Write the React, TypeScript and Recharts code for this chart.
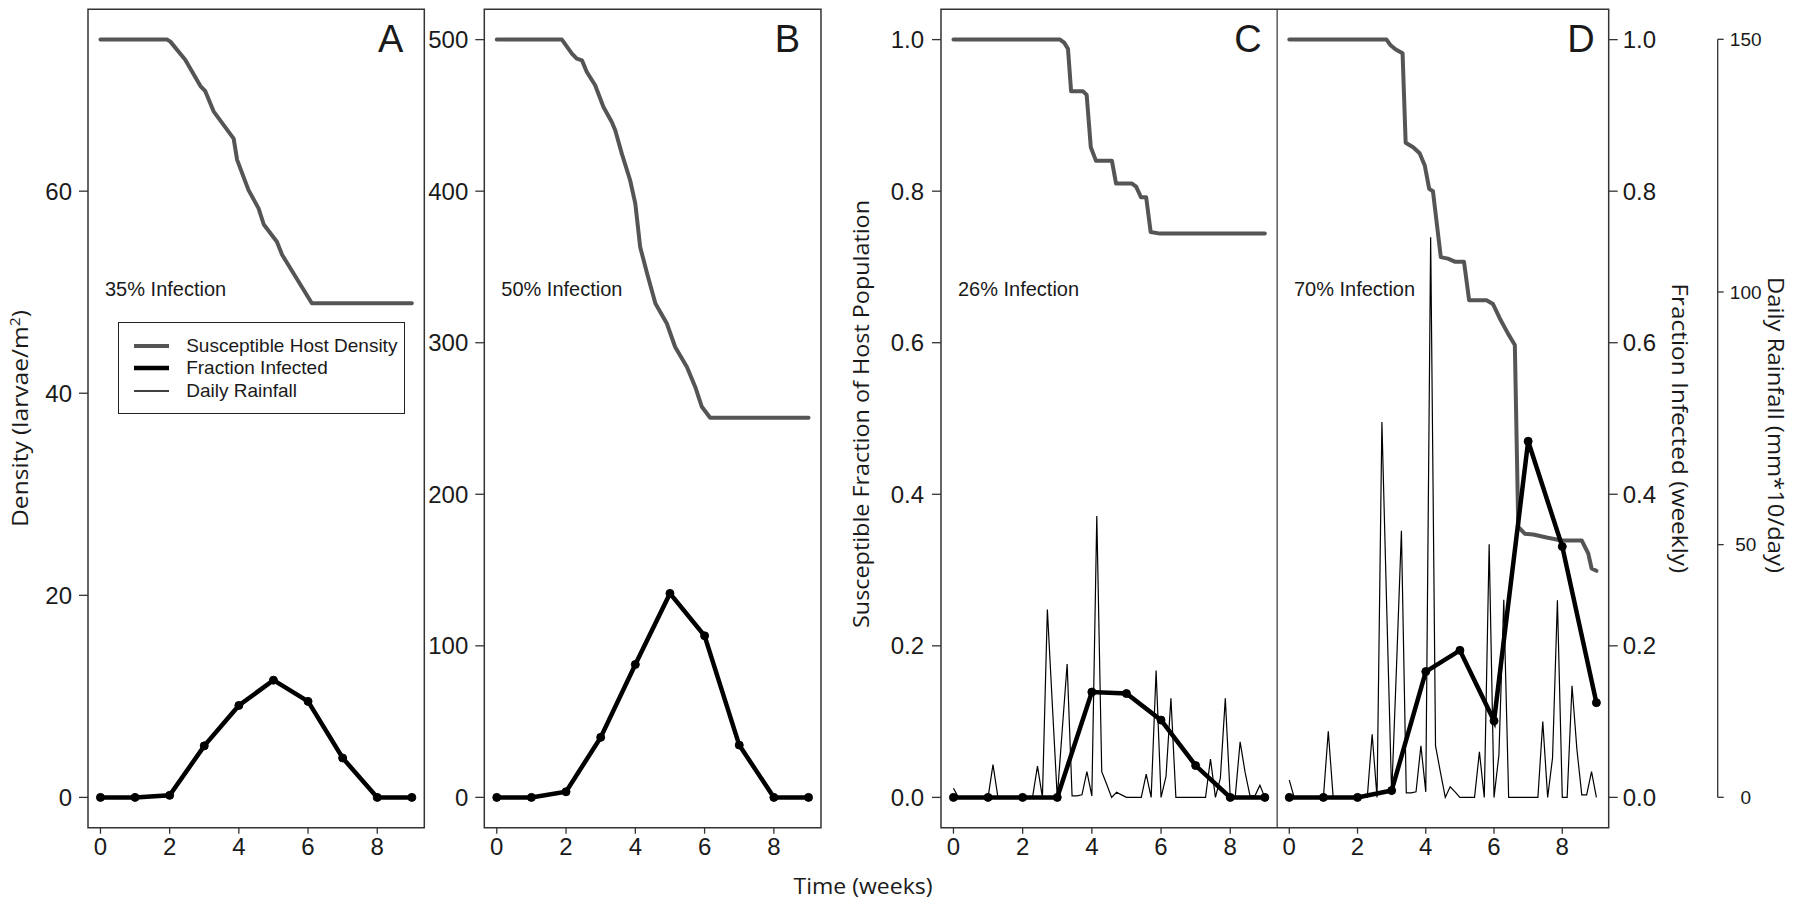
import React from "react";
import { ComposedChart, Line, XAxis, YAxis, ReferenceArea, Legend } from "recharts";

// weekly sampling points
const weeks = [0, 1, 2, 3, 4, 5, 6, 7, 8, 9];
const infectedA = [0, 0, 0.2, 5.1, 9.1, 11.6, 9.5, 3.9, 0, 0];
const infectedB = [0, 0, 3.7, 39.6, 87.7, 134.6, 106.6, 34.5, 0, 0];
const infectedC = [0, 0, 0, 0, 0.139, 0.137, 0.102, 0.042, 0, 0];
const infectedD = [0, 0, 0, 0.009, 0.166, 0.194, 0.101, 0.47, 0.331, 0.125];

// susceptible hosts (time in weeks / value)
const susAWeeks = [0, 1.93, 2.02, 2.45, 2.89, 3.03, 3.27, 3.85, 3.95, 4.28, 4.57, 4.72, 5.1, 5.25, 6.11, 9];
const susA = [75, 75, 74.8, 73, 70.4, 69.9, 67.9, 65.2, 63.1, 60.1, 58.3, 56.7, 55, 53.7, 48.9, 48.9];

const susBWeeks = [0, 1.88, 2.17, 2.31, 2.46, 2.6, 2.84, 3.08, 3.32, 3.42, 3.61, 3.85, 4.0, 4.14, 4.34, 4.58, 4.91, 5.15, 5.49, 5.73, 5.92, 6.16, 9];
const susB = [500, 500, 490.8, 487.5, 486.3, 478.6, 469.9, 455.5, 445.6, 440.2, 424.8, 407.2, 391.8, 363.2, 345.6, 325.9, 312.7, 297.2, 284, 270.8, 257.7, 250.5, 250.5];

const susCWeeks = [0, 3.08, 3.2, 3.31, 3.4, 3.74, 3.85, 3.97, 4.12, 4.58, 4.7, 5.16, 5.28, 5.42, 5.57, 5.7, 5.97, 9];
const susC = [1, 1, 0.996, 0.988, 0.932, 0.932, 0.927, 0.858, 0.84, 0.84, 0.81, 0.81, 0.806, 0.792, 0.792, 0.746, 0.744, 0.744];

const susDWeeks = [0, 2.85, 2.96, 3.12, 3.32, 3.41, 3.63, 3.82, 3.97, 4.1, 4.21, 4.44, 4.65, 4.85, 5.12, 5.27, 5.78, 5.97, 6.17, 6.41, 6.61, 6.71, 6.9, 7.15, 7.54, 7.98, 8.57, 8.76, 8.86, 9];
const susD = [1, 1, 0.993, 0.987, 0.982, 0.864, 0.858, 0.85, 0.834, 0.803, 0.8, 0.713, 0.711, 0.707, 0.707, 0.656, 0.656, 0.651, 0.632, 0.612, 0.597, 0.357, 0.348, 0.347, 0.343, 0.339, 0.339, 0.322, 0.302, 0.299];

// daily rainfall (mm*10/day), days 0..63
const rainC = [
  1.8, 0, 0, 0, 0, 0, 0, 0, 6.5, 0,
  0, 0, 0, 0, 0, 0, 0, 6.2, 0, 37.2,
  18.5, 0, 13.2, 26.4, 0.3, 0.3, 0.5, 5.1, 0.3, 55.7,
  5.1, 2.6, 0, 1.0, 0.5, 0, 0, 0, 0, 4.6,
  0, 25.1, 0, 4.1, 19.6, 0, 0, 0, 0, 0,
  0, 0, 7.6, 0, 3.8, 19.6, 0, 0, 11.0, 5.0,
  0.3, 0.3, 2.4, 0,
];
const rainD = [
  3.4, 0, 0, 0, 0, 0, 0, 0, 13.1, 0,
  0, 0, 0, 0, 0, 0, 0, 12.5, 0, 74.3,
  37, 0.5, 26, 52.8, 0.9, 0.9, 1.1, 10.2, 1.1, 110.9,
  10.2, 5, 0, 2.1, 1.1, 0, 0, 0, 0, 9.0,
  0, 50.1, 0, 8.4, 39.1, 0, 0, 0, 0, 0,
  0, 0, 15.0, 0, 7.8, 39.0, 0, 0, 22.1, 9.5,
  0.5, 0.5, 5.1, 0,
];

const xTicks = [0, 2, 4, 6, 8];
const ticksA = [0, 20, 40, 60];
const ticksB = [0, 100, 200, 300, 400, 500];
const fractionTicks = [0, 0.2, 0.4, 0.6, 0.8, 1];
const rainTicks = [0, 50, 100, 150];
const legendLabels = ["Susceptible Host Density", "Fraction Infected", "Daily Rainfall"];

const pts = (xs: number[], ys: number[]) => xs.map((t, i) => ({ t, v: ys[i] }));
const daily = (ys: number[]) => ys.map((v, d) => ({ t: d / 7, v }));

const X_DOMAIN: [number, number] = [-0.36, 9.36];
const DOM_A: [number, number] = [-3, 78];
const DOM_B: [number, number] = [-20, 520];
const DOM_F: [number, number] = [-0.04, 1.04];
const DOM_R: [number, number] = [-6, 156];

const tickFamily = "'Liberation Sans', Arial, sans-serif";
const titleFamily = "'Open Sans', sans-serif";
const ink = "#1a1a1a";
const GREY = "#555555";

const tickStyle = { fontFamily: tickFamily, fontSize: 24, fill: ink };
const tickLineStyle = { stroke: "#333", strokeWidth: 1.3 };

const title = (text: React.ReactNode, x: number, y: number, angle: number, len: number) => () => (
  <text
    x={x}
    y={y}
    transform={`rotate(${angle} ${x} ${y})`}
    textAnchor="middle"
    textLength={len}
    lengthAdjust="spacingAndGlyphs"
    fontFamily={titleFamily}
    fontSize={22}
    fill={ink}
  >
    {text}
  </text>
);

const panelLabel = (letter: string, note: string, right: number) => (props: any) => {
  const { x, y, width } = props.viewBox;
  return (
    <g>
      <text x={x + width - right} y={y + 43} textAnchor="end" fontFamily={tickFamily} fontSize={38} fill={ink}>
        {letter}
      </text>
      <text x={x + 17} y={y + 287} fontFamily={tickFamily} fontSize={20} fill={ink}>
        {note}
      </text>
    </g>
  );
};

const legendSwatch = [
  { color: GREY, width: 4 },
  { color: "#000", width: 4.5 },
  { color: "#000", width: 1.3 },
];

const LegendBox = () => (
  <div
    style={{
      width: 287,
      height: 92,
      border: "1.3px solid #222",
      boxSizing: "border-box",
      background: "#fff",
      paddingTop: 11,
      fontFamily: tickFamily,
      fontSize: 19,
      color: ink,
    }}
  >
    {legendLabels.map((label, i) => (
      <div key={label} style={{ display: "flex", alignItems: "center", height: 22.5 }}>
        <svg width={37} height={10} style={{ marginLeft: 14.5, marginRight: 16 }}>
          <line x1={1} y1={5} x2={36} y2={5} stroke={legendSwatch[i].color} strokeWidth={legendSwatch[i].width} />
        </svg>
        <span style={{ whiteSpace: "nowrap" }}>{label}</span>
      </div>
    ))}
  </div>
);

const RainTick = (props: any) => {
  const { x, y, payload } = props;
  return (
    <text x={x + 22} y={y} dy="0.355em" textAnchor="middle" fontFamily={tickFamily} fontSize={19} fill={ink}>
      {payload.value}
    </text>
  );
};

const frame = { fill: "none", stroke: "#333", strokeWidth: 1.5, ifOverflow: "visible" as const };
const greyLine = { stroke: GREY, strokeWidth: 4, dot: false, strokeLinecap: "round" as const, strokeLinejoin: "round" as const, isAnimationActive: false };
const blackLine = { stroke: "#000", strokeWidth: 4.5, dot: { r: 4, fill: "#000", stroke: "#000", strokeWidth: 1 }, isAnimationActive: false };
const rainLine = { stroke: "#000", strokeWidth: 1.2, dot: false, isAnimationActive: false };

const bottomAxis = (label?: any) => (
  <XAxis
    type="number"
    dataKey="t"
    domain={X_DOMAIN}
    allowDataOverflow
    ticks={xTicks}
    interval={0}
    height={77.3}
    axisLine={false}
    tickSize={6}
    tickMargin={4}
    tickLine={tickLineStyle}
    tick={tickStyle}
    label={label}
  />
);

const fmt1 = (v: number) => v.toFixed(1);

export default function App() {
  return (
    <div style={{ position: "absolute", left: 0, top: 0, width: 1800, height: 905, background: "#fff", overflow: "hidden" }}>
      {/* Panel A */}
      <div style={{ position: "absolute", left: 0, top: 0 }}>
        <ComposedChart width={430} height={905} margin={{ top: 9.3, right: 5.7, bottom: 0, left: 0 }}>
          {bottomAxis()}
          <YAxis
            type="number"
            domain={DOM_A}
            allowDataOverflow
            ticks={ticksA}
            interval={0}
            width={88}
            axisLine={false}
            tickSize={9}
            tickMargin={7}
            tickLine={tickLineStyle}
            tick={tickStyle}
            label={title(
              <>
                Density (larvae/m<tspan dy={-8} fontSize={14}>2</tspan>
                <tspan dy={8}>)</tspan>
              </>,
              27.5,
              418.5,
              -90,
              217
            )}
          />
          <ReferenceArea x1={X_DOMAIN[0]} x2={X_DOMAIN[1]} y1={DOM_A[0]} y2={DOM_A[1]} {...frame} label={panelLabel("A", "35% Infection", 21)} />
          <Line data={pts(susAWeeks, susA)} dataKey="v" {...greyLine} />
          <Line data={pts(weeks, infectedA)} dataKey="v" {...blackLine} />
          <Legend
            layout="horizontal"
            verticalAlign="middle"
            content={() => <LegendBox />}
            wrapperStyle={{ left: 117.7, top: 322.3, width: 287 }}
          />
        </ComposedChart>
      </div>

      {/* Panel B */}
      <div style={{ position: "absolute", left: 415, top: 0 }}>
        <ComposedChart width={411.7} height={905} margin={{ top: 9.3, right: 5.7, bottom: 0, left: 0 }}>
          {bottomAxis()}
          <YAxis
            type="number"
            domain={DOM_B}
            allowDataOverflow
            ticks={ticksB}
            interval={0}
            width={69.3}
            axisLine={false}
            tickSize={9}
            tickMargin={7}
            tickLine={tickLineStyle}
            tick={tickStyle}
          />
          <ReferenceArea x1={X_DOMAIN[0]} x2={X_DOMAIN[1]} y1={DOM_B[0]} y2={DOM_B[1]} {...frame} label={panelLabel("B", "50% Infection", 21)} />
          <Line data={pts(susBWeeks, susB)} dataKey="v" {...greyLine} />
          <Line data={pts(weeks, infectedB)} dataKey="v" {...blackLine} />
        </ComposedChart>
      </div>

      {/* Panel C */}
      <div style={{ position: "absolute", left: 760, top: 0 }}>
        <ComposedChart width={517.3} height={905} margin={{ top: 9.3, right: 0, bottom: 0, left: 0 }}>
          {bottomAxis(title("Time (weeks)", 103, 894, 0, 139))}
          <YAxis
            type="number"
            domain={DOM_F}
            allowDataOverflow
            ticks={fractionTicks}
            interval={0}
            width={181}
            axisLine={false}
            tickSize={9}
            tickMargin={8}
            tickLine={tickLineStyle}
            tick={tickStyle}
            tickFormatter={fmt1}
            label={title("Susceptible Fraction of Host Population", 108.8, 414, -90, 428)}
          />
          <YAxis yAxisId="rain" hide domain={DOM_R} allowDataOverflow />
          <ReferenceArea x1={X_DOMAIN[0]} x2={X_DOMAIN[1]} y1={DOM_F[0]} y2={DOM_F[1]} {...frame} label={panelLabel("C", "26% Infection", 15.5)} />
          <Line data={pts(susCWeeks, susC)} dataKey="v" {...greyLine} />
          <Line data={daily(rainC)} dataKey="v" yAxisId="rain" {...rainLine} />
          <Line data={pts(weeks, infectedC)} dataKey="v" {...blackLine} />
        </ComposedChart>
      </div>

      {/* Panel D */}
      <div style={{ position: "absolute", left: 1277.3, top: 0 }}>
        <ComposedChart width={422.7} height={905} margin={{ top: 9.3, right: 0, bottom: 0, left: 0 }}>
          {bottomAxis()}
          <YAxis
            yAxisId="frac"
            orientation="right"
            type="number"
            domain={DOM_F}
            allowDataOverflow
            ticks={fractionTicks}
            interval={0}
            width={91}
            axisLine={false}
            tickSize={9}
            tickMargin={5}
            tickLine={tickLineStyle}
            tick={tickStyle}
            tickFormatter={fmt1}
            label={title("Fraction Infected (weekly)", 394.7, 428.3, 90, 290)}
          />
          <YAxis yAxisId="rain" hide domain={DOM_R} allowDataOverflow />
          <ReferenceArea yAxisId="frac" x1={X_DOMAIN[0]} x2={X_DOMAIN[1]} y1={DOM_F[0]} y2={DOM_F[1]} {...frame} label={panelLabel("D", "70% Infection", 14)} />
          <Line data={pts(susDWeeks, susD)} dataKey="v" yAxisId="frac" {...greyLine} />
          <Line data={daily(rainD)} dataKey="v" yAxisId="rain" {...rainLine} />
          <Line data={pts(weeks, infectedD)} dataKey="v" yAxisId="frac" {...blackLine} />
        </ComposedChart>
      </div>

      {/* Rainfall axis */}
      <div style={{ position: "absolute", left: 1700, top: 0 }}>
        <ComposedChart width={100} height={905} margin={{ top: 39.3, right: 0, bottom: 107.7, left: 16.7 }}>
          <XAxis type="number" dataKey="t" hide domain={[0, 1]} />
          <YAxis
            orientation="right"
            type="number"
            domain={[0, 150]}
            allowDataOverflow
            ticks={rainTicks}
            interval={0}
            width={82.3}
            axisLine={tickLineStyle}
            tickSize={6}
            tickMargin={0}
            tickLine={tickLineStyle}
            tick={RainTick}
            label={title("Daily Rainfall (mm*10/day)", 68, 425, 90, 296)}
          />
        </ComposedChart>
      </div>
    </div>
  );
}
